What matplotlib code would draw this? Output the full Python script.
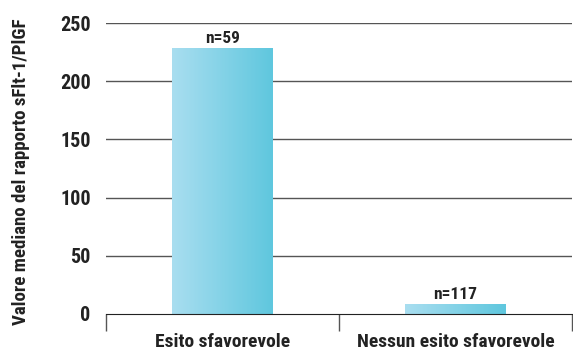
import numpy as np
import matplotlib.pyplot as plt
from matplotlib import font_manager
from matplotlib.colors import LinearSegmentedColormap

categories = ['Esito sfavorevole', 'Nessun esito sfavorevole']
values = [228.5, 8]
counts = ['n=59', 'n=117']
yticks = [0, 50, 100, 150, 200, 250]

# pick a narrow sans if one is installed
installed = {f.name for f in font_manager.fontManager.ttflist}
condensed = [f.name for f in font_manager.fontManager.ttflist
             if f.stretch in ('condensed', 'semi-condensed', 'extra-condensed')
             or 'Narrow' in f.name or 'Condensed' in f.name]
family = None
for name in ['Liberation Sans Narrow', 'DejaVu Sans Condensed', 'Roboto Condensed',
             'Open Sans Condensed']:
    if name in installed:
        family = name
        break
stretch = 'normal'
if family is None and condensed:
    family = condensed[0]
    stretch = 'condensed'
if family is None:
    family = 'Liberation Sans'
    narrow = False
else:
    narrow = True
plt.rcParams['font.family'] = [family, 'DejaVu Sans']
plt.rcParams['font.stretch'] = stretch

k = 1.0 if narrow else 0.8

fig = plt.figure(figsize=(5.73, 3.53), dpi=100)
ax = fig.add_axes([0.185, 0.1105, 0.813, 0.824])

cmap = LinearSegmentedColormap.from_list('bar', ['#a9def0', '#5fc7de'])
grad = np.linspace(0, 1, 256).reshape(1, -1)
width = 0.43

for i, v in enumerate(values):
    x0 = i - width / 2
    ax.imshow(grad, cmap=cmap, aspect='auto', extent=(x0, x0 + width, 0, v),
              zorder=3, interpolation='bilinear')
    ax.text(i, v + 2, counts[i], ha='center', va='bottom', fontsize=12.5 * k,
            fontweight='bold', color='#222222', zorder=4)

ax.set_xlim(-0.5, 1.5)
ax.set_ylim(0, 250)
ax.set_yticks(yticks)
ax.set_yticklabels([str(t) for t in yticks], fontsize=14.5 * k, fontweight='bold',
                   color='#222222')
for t in yticks[1:]:
    ax.axhline(t, color='#555555', lw=1, zorder=1)

ax.set_xticks([-0.5, 0.5, 1.5])
ax.set_xticklabels([])
ax.tick_params(axis='x', direction='out', length=12, width=1, color='#555555')
ax.tick_params(axis='y', length=0, pad=11)
for i, c in enumerate(categories):
    ax.text(i, -16.5, c, ha='center', va='top', fontsize=14 * k, fontweight='bold',
            color='#222222')

for s in ['left', 'right', 'top']:
    ax.spines[s].set_visible(False)
ax.spines['bottom'].set_color('#222222')
ax.spines['bottom'].set_zorder(5)

ax.set_ylabel('Valore mediano del rapporto sFlt-1/PlGF', fontsize=13.6 * k,
              fontweight='bold', color='#222222')
ax.yaxis.set_label_coords(-0.185 + 10 / 466, 0.49)

fig.savefig('out.png', dpi=100)
